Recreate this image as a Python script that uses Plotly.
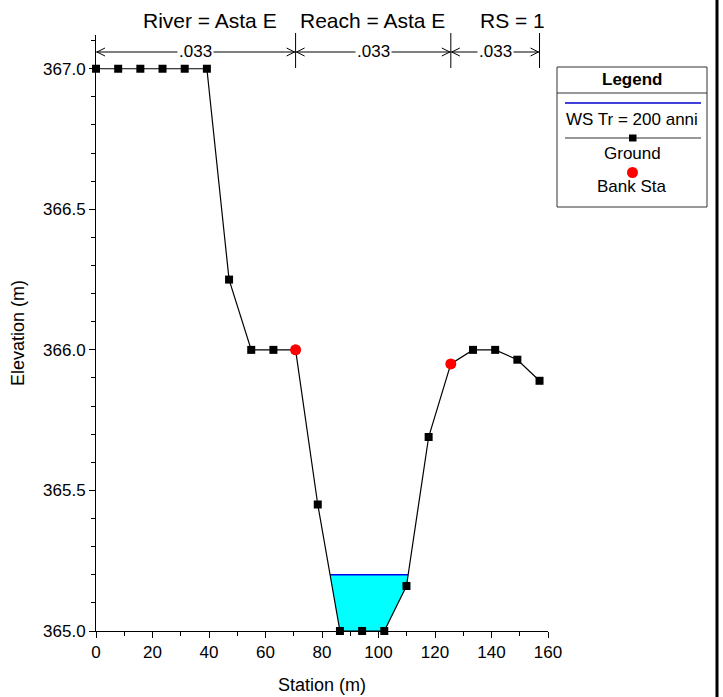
import plotly.graph_objects as go

# ---- data ----
station = [0.0, 7.85, 15.7, 23.55, 31.4, 39.25, 47.1, 54.95, 62.8, 70.65, 78.5,
           86.35, 94.2, 102.05, 109.9, 117.75, 125.6, 133.45, 141.3, 149.15, 157.0]
ground = [367.0, 367.0, 367.0, 367.0, 367.0, 367.0, 366.25, 366.0, 366.0, 366.0, 365.45,
          365.0, 365.0, 365.0, 365.16, 365.69, 365.95, 366.0, 366.0, 365.965, 365.89]
bank_sta = [70.65, 125.6]
bank_elev = [366.0, 365.95]
ws_elev = 365.2
n_breaks = [0.0, 70.65, 125.6, 157.0]
n_values = [".033", ".033", ".033"]
title_parts = ["River = Asta E", "Reach = Asta E", "RS = 1"]
legend_items = ["WS Tr = 200 anni", "Ground", "Bank Sta"]

W, H = 723, 697
L, R, T, B = 96, 175, 35, 66
PW, PH = W - L - R, H - T - B
FONT = "Liberation Sans, Arial, sans-serif"


def px(x):
    return (x - L) / PW


def py(y):
    return (H - B - y) / PH


# water-surface wet polygon from ground and WS level
def crossing(i):
    x0, y0, x1, y1 = station[i], ground[i], station[i + 1], ground[i + 1]
    t = (ws_elev - y0) / (y1 - y0)
    return x0 + t * (x1 - x0)


wx, wy = [], []
for i in range(len(station) - 1):
    a, b = ground[i], ground[i + 1]
    if a >= ws_elev > b:
        wx.append(crossing(i))
        wy.append(ws_elev)
    if ground[i + 1] < ws_elev:
        wx.append(station[i + 1])
        wy.append(ground[i + 1])
    if a < ws_elev <= b:
        wx.append(crossing(i))
        wy.append(ws_elev)
        break

fig = go.Figure()
fig.add_trace(go.Scatter(x=wx + [wx[0]], y=wy + [wy[0]], fill="toself",
                         fillcolor="#00FFFF", line=dict(width=0), mode="lines",
                         hoverinfo="skip", showlegend=False))
fig.add_trace(go.Scatter(x=[wx[0], wx[-1]], y=[ws_elev, ws_elev], mode="lines",
                         line=dict(color="#0000EE", width=1.5), name=legend_items[0],
                         showlegend=False))
fig.add_trace(go.Scatter(x=station, y=ground, mode="lines+markers",
                         line=dict(color="black", width=1.2),
                         marker=dict(symbol="square", size=8, color="black"),
                         name=legend_items[1], cliponaxis=False, showlegend=False))
fig.add_trace(go.Scatter(x=bank_sta, y=bank_elev, mode="markers",
                         marker=dict(symbol="circle", size=11, color="#FF0000"),
                         name=legend_items[2], cliponaxis=False, showlegend=False))

shapes = []
annotations = []

# title
title_px = [210, 372, 512]
for t, xpx in zip(title_parts, title_px):
    annotations.append(dict(x=px(xpx), y=py(20), xref="paper", yref="paper",
                            text=t, showarrow=False, xanchor="center", yanchor="middle",
                            font=dict(size=21, color="black", family=FONT)))

# Manning's n bands
row = py(52)
for xb in n_breaks[1:]:
    shapes.append(dict(type="line", xref="x", yref="paper", x0=xb, x1=xb,
                       y0=py(68), y1=py(33), line=dict(color="black", width=1)))
for i, val in enumerate(n_values):
    a, b = n_breaks[i], n_breaks[i + 1]
    shapes.append(dict(type="line", xref="x", yref="paper", x0=a, x1=b,
                       y0=row, y1=row, line=dict(color="black", width=1)))
    shapes.append(dict(type="path", xref="x", yref="paper", xsizemode="pixel",
                       ysizemode="pixel", xanchor=a, yanchor=row,
                       path="M 9,4 L 1,0 L 9,-4", line=dict(color="black", width=1)))
    shapes.append(dict(type="path", xref="x", yref="paper", xsizemode="pixel",
                       ysizemode="pixel", xanchor=b, yanchor=row,
                       path="M -9,4 L -1,0 L -9,-4", line=dict(color="black", width=1)))
    annotations.append(dict(x=(a + b) / 2, y=row, xref="x", yref="paper", text=val,
                            showarrow=False, bgcolor="white", borderpad=1,
                            xanchor="center", yanchor="middle",
                            font=dict(size=17, color="black", family=FONT)))

# right frame line
shapes.append(dict(type="line", xref="paper", yref="paper", x0=px(717), x1=px(717),
                   y0=py(H), y1=py(0), line=dict(color="black", width=3)))

# custom legend box
lx0, lx1, ly0, ly1 = 557, 707, 67, 207
shapes.append(dict(type="rect", xref="paper", yref="paper", x0=px(lx0), x1=px(lx1),
                   y0=py(ly1), y1=py(ly0), line=dict(color="#333333", width=1),
                   fillcolor="white"))
shapes.append(dict(type="line", xref="paper", yref="paper", x0=px(lx0), x1=px(lx1),
                   y0=py(93), y1=py(93), line=dict(color="#333333", width=1)))
shapes.append(dict(type="line", xref="paper", yref="paper", x0=px(565), x1=px(701),
                   y0=py(103), y1=py(103), line=dict(color="#0000CC", width=1.3)))
shapes.append(dict(type="line", xref="paper", yref="paper", x0=px(565), x1=px(701),
                   y0=py(138), y1=py(138), line=dict(color="#333333", width=1.2)))
shapes.append(dict(type="rect", xref="paper", yref="paper", x0=px(629), x1=px(636.5),
                   y0=py(141.5), y1=py(134.5), line=dict(width=0), fillcolor="black"))
shapes.append(dict(type="circle", xref="paper", yref="paper", x0=px(627), x1=px(638),
                   y0=py(178), y1=py(167), line=dict(width=0), fillcolor="#FF0000"))
leg_cx = px((lx0 + lx1) / 2)
annotations.append(dict(x=leg_cx, y=py(79), xref="paper", yref="paper",
                        text="<b>Legend</b>", showarrow=False, xanchor="center",
                        yanchor="middle", font=dict(size=17, color="black", family=FONT)))
for t, ypx in zip(legend_items, [119, 153, 187]):
    annotations.append(dict(x=leg_cx, y=py(ypx), xref="paper", yref="paper",
                            text=t, showarrow=False, xanchor="center", yanchor="middle",
                            font=dict(size=17, color="black", family=FONT)))

fig.update_layout(
    width=W, height=H,
    margin=dict(l=L, r=R, t=T, b=B, pad=0),
    paper_bgcolor="white", plot_bgcolor="white",
    font=dict(family=FONT, size=16, color="black"),
    shapes=shapes, annotations=annotations,
    showlegend=False,
    xaxis=dict(range=[0, 160], dtick=20, tick0=0, ticks="outside", ticklen=6,
               tickwidth=1, tickcolor="black", showline=True, linecolor="black",
               linewidth=1, showgrid=False, zeroline=False, automargin=False,
               minor=dict(dtick=10, ticks="outside", ticklen=4, tickcolor="black"),
               title=dict(text="Station (m)", standoff=16, font=dict(size=18)),
               tickfont=dict(size=17)),
    yaxis=dict(range=[365, 367.12], dtick=0.5, tick0=365, tickformat=".1f",
               ticks="outside", ticklen=6, tickwidth=1, tickcolor="black",
               showline=True, linecolor="black", linewidth=1, showgrid=False,
               zeroline=False, automargin=False,
               minor=dict(dtick=0.1, ticks="outside", ticklen=4, tickcolor="black"),
               title=dict(text="Elevation (m)", standoff=13, font=dict(size=18)),
               tickfont=dict(size=17)),
)

fig.write_html("out.html", config={"displayModeBar": False},
               post_script="document.body.style.margin='0';document.body.style.overflow='hidden';")
